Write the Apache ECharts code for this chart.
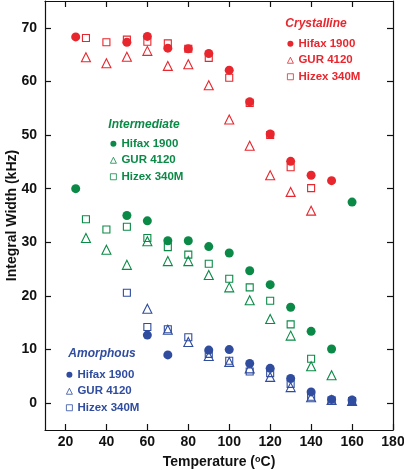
<!DOCTYPE html>
<html><head><meta charset="utf-8">
<script src="https://cdn.jsdelivr.net/npm/echarts@6/dist/echarts.min.js"></script>
<style>html,body{margin:0;padding:0;background:#fff}#c{width:404px;height:470px}</style>
</head><body><div id="c"></div>
<script>
// ---- Data (Temperature °C, Integral Width kHz) ----
const crysHifaxT = [25, 50, 60, 70, 80, 90, 100, 110, 120, 130, 140, 150];
const crysHifaxW = [68.3, 67.3, 68.4, 66.2, 66.1, 65.2, 62.1, 56.2, 50.2, 45.1, 42.5, 41.5];
const crysGurT = [30, 40, 50, 60, 70, 80, 90, 100, 110, 120, 130, 140];
const crysGurW = [64.5, 63.4, 64.6, 65.7, 62.9, 63.2, 59.3, 52.9, 48.0, 42.5, 39.4, 35.9];
const crysHizexT = [30, 40, 50, 60, 70, 80, 90, 100, 110, 120, 130, 140];
const crysHizexW = [68.1, 67.3, 67.8, 67.4, 67.1, 66.1, 64.4, 60.7, 56.0, 50.0, 44.0, 40.1];

const intHifaxT = [25, 50, 60, 70, 80, 90, 100, 110, 120, 130, 140, 150, 160];
const intHifaxW = [40.0, 35.0, 34.0, 30.3, 30.3, 29.2, 28.0, 24.7, 22.1, 17.9, 13.4, 10.1, 37.5];
const intGurT = [30, 40, 50, 60, 70, 80, 90, 100, 110, 120, 130, 140, 150];
const intGurW = [30.8, 28.6, 25.8, 30.2, 26.5, 26.5, 23.9, 21.6, 19.2, 15.7, 12.6, 6.9, 5.2];
const intHizexT = [30, 40, 50, 60, 70, 80, 90, 100, 110, 120, 130, 140];
const intHizexW = [34.3, 32.4, 32.9, 30.8, 29.1, 27.7, 26.0, 23.2, 21.6, 19.1, 14.7, 8.3];

const amHifaxT = [60, 70, 90, 100, 110, 120, 130, 140, 150, 160];
const amHifaxW = [12.7, 9.0, 9.9, 10.0, 7.4, 6.5, 4.6, 2.1, 0.7, 0.6];
const amGurT = [60, 70, 80, 90, 100, 110, 120, 130, 140, 150, 160];
const amGurW = [17.6, 13.7, 11.4, 8.8, 7.7, 6.5, 4.9, 3.0, 1.1, 0.6, 0.4];
const amHizexT = [50, 60, 70, 80, 90, 100, 110, 120, 130, 140, 150, 160];
const amHizexW = [20.6, 14.2, 13.8, 12.3, 9.2, 7.9, 5.9, 5.6, 3.6, 1.2, 0.5, 0.4];

const xTicks = [20, 40, 60, 80, 100, 120, 140, 160, 180];
const yTicks = [0, 10, 20, 30, 40, 50, 60, 70];
const materials = ['Hifax 1900', 'GUR 4120', 'Hizex 340M'];
const groups = ['Crystalline', 'Intermediate', 'Amorphous'];

const RED = '#e8262d', GREEN = '#0b8a47', BLUE = '#2f4c9f';
const FONT = '"Liberation Sans", Arial, Helvetica, sans-serif';

function pts(t, w) { return t.map((x, i) => [x, w[i]]); }

function filled(name, t, w, color) {
  return { type: 'scatter', name: name, data: pts(t, w), symbol: 'circle', symbolSize: 9, z: 4,
    itemStyle: { color: color, opacity: 1 } };
}
function hollow(name, t, w, color, sym, size) {
  return { type: 'scatter', name: name, data: pts(t, w), symbol: sym, symbolSize: size, z: 3,
    itemStyle: { color: 'rgba(255,255,255,0)', borderColor: color, borderWidth: 1.1, opacity: 1 } };
}

const series = [
  hollow('Crystalline|Hizex 340M', crysHizexT, crysHizexW, RED, 'rect', 7),
  hollow('Crystalline|GUR 4120', crysGurT, crysGurW, RED, 'triangle', 9),
  filled('Crystalline|Hifax 1900', crysHifaxT, crysHifaxW, RED),
  hollow('Intermediate|Hizex 340M', intHizexT, intHizexW, GREEN, 'rect', 7),
  hollow('Intermediate|GUR 4120', intGurT, intGurW, GREEN, 'triangle', 9),
  filled('Intermediate|Hifax 1900', intHifaxT, intHifaxW, GREEN),
  hollow('Amorphous|Hizex 340M', amHizexT, amHizexW, BLUE, 'rect', 7),
  hollow('Amorphous|GUR 4120', amGurT, amGurW, BLUE, 'triangle', 9),
  filled('Amorphous|Hifax 1900', amHifaxT, amHifaxW, BLUE)
];

function legend(group, color, left, top) {
  return {
    data: materials.map(m => group + '|' + m),
    orient: 'vertical', left: left, top: top, padding: 0, itemGap: 1,
    itemWidth: 6, itemHeight: 6, selectedMode: false,
    itemStyle: { borderWidth: 0.8 },
    formatter: n => n.split('|')[1],
    textStyle: { color: color, fontFamily: FONT, fontWeight: 'bold', fontSize: 11.5, lineHeight: 15.5 }
  };
}

const axisLine = { show: true, onZero: false, lineStyle: { color: '#111', width: 1.2 } };
const tick = (vals) => ({ show: true, inside: true, length: 6, customValues: vals, lineStyle: { color: '#111', width: 1.2 } });

const option = {
  animation: false,
  backgroundColor: '#fff',
  grid: { left: 45, right: 11, top: 1, bottom: 40, containLabel: false, outerBoundsMode: 'none' },
  xAxis: [
    { type: 'value', min: 10, max: 180, position: 'bottom',
      axisLine: axisLine, axisTick: tick(xTicks), splitLine: { show: false },
      axisLabel: { customValues: xTicks, margin: 5, color: '#111', fontFamily: FONT, fontWeight: 'bold', fontSize: 14 },
      name: '{a|Temperature (}{s|o}{a|C)}', nameLocation: 'middle', nameGap: 25, nameMoveOverlap: false,
      nameTextStyle: { rich: {
        a: { fontFamily: FONT, fontWeight: 'bold', fontSize: 14, color: '#111' },
        s: { fontFamily: FONT, fontWeight: 'bold', fontSize: 9, color: '#111', verticalAlign: 'top', padding: [0, 0, 6, 0] } } } },
    { type: 'value', min: 10, max: 180, position: 'top',
      axisLine: axisLine, axisTick: tick(xTicks.slice(0, -1)), axisLabel: { show: false }, splitLine: { show: false } }
  ],
  yAxis: [
    { type: 'value', min: -5, max: 75, position: 'left',
      axisLine: axisLine, axisTick: tick(yTicks), splitLine: { show: false },
      axisLabel: { customValues: yTicks, margin: 8, color: '#111', fontFamily: FONT, fontWeight: 'bold', fontSize: 14 },
      name: 'Integral Width (kHz)', nameLocation: 'middle', nameGap: 26, nameRotate: 90, nameMoveOverlap: false,
      nameTextStyle: { fontFamily: FONT, fontWeight: 'bold', fontSize: 14, color: '#111' } },
    { type: 'value', min: -5, max: 75, position: 'right',
      axisLine: axisLine, axisTick: tick(yTicks), axisLabel: { show: false }, splitLine: { show: false } }
  ],
  legend: [
    legend('Crystalline', RED, 287, 36),
    legend('Intermediate', GREEN, 110, 136),
    legend('Amorphous', BLUE, 66, 367)
  ],
  graphic: [
    { type: 'text', x: 316, y: 24, style: { text: groups[0], fill: RED, font: 'italic bold 12px ' + FONT, align: 'center', verticalAlign: 'middle' } },
    { type: 'text', x: 144, y: 125, style: { text: groups[1], fill: GREEN, font: 'italic bold 12px ' + FONT, align: 'center', verticalAlign: 'middle' } },
    { type: 'text', x: 102, y: 354, style: { text: groups[2], fill: BLUE, font: 'italic bold 12px ' + FONT, align: 'center', verticalAlign: 'middle' } }
  ],
  series: series
};

const chart = echarts.init(document.getElementById('c'), null, { renderer: 'canvas' });
chart.setOption(option);
</script>
</body></html>
